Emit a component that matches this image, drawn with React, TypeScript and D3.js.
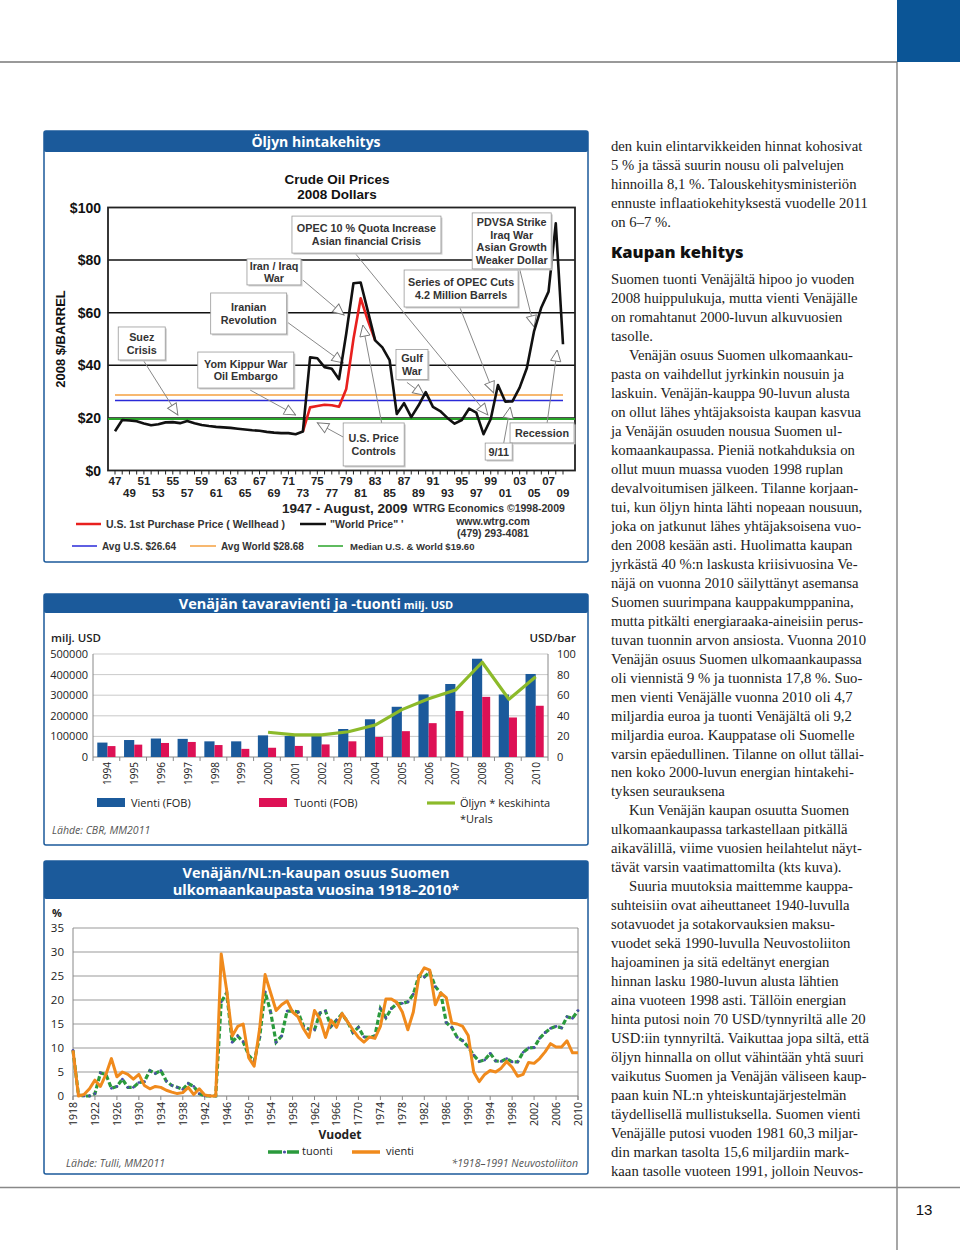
import React from 'react';
import * as d3 from 'd3';

// ---------- Oil price chart data (2008 dollars) ----------
const OIL_START = 1947;
const WORLD_PRICE = [
  14.9, 19.2, 19.0, 18.7, 17.9, 17.2, 17.6, 18.3, 18.4, 18.0, 18.8, 18.0, 17.3, 16.9, 16.6, 16.4,
  16.2, 15.9, 15.6, 15.3, 15.1, 14.7, 14.4, 14.2, 14.2, 13.8, 14.8, 43.0, 42.7, 39.3, 38.7, 34.7,
  52.0, 71.2, 71.5, 60.5, 49.5, 46.8, 42.0, 21.5, 25.6, 20.3, 24.7, 29.8, 24.2, 22.6, 20.0, 17.8,
  19.2, 23.5, 22.0, 13.8, 19.6, 32.5, 26.2, 26.3, 31.5, 39.0, 53.0, 62.0, 68.0, 94.0, 48.0,
];
const US_PRICE_YEARS = [1973, 1974, 1975, 1976, 1977, 1978, 1979, 1980, 1981, 1982, 1983];
const US_PRICE = [14.8, 24.0, 24.5, 25.0, 24.8, 24.2, 31.0, 50.0, 65.5, 57.0, 49.5];
const AVG_US = 26.64;
const AVG_WORLD = 28.68;
const MEDIAN_PRICE = 19.6;
const OIL_Y_TICKS = [0, 20, 40, 60, 80, 100];
const OIL_GRID = [20, 40, 60, 80];

type Note = { lines: string[]; cx: number; cy: number; w: number; h: number; arrows: number[][] };
const OIL_NOTES: Note[] = [
  { lines: ['Suez', 'Crisis'], cx: 1950.7, cy: 48.3, w: 47, h: 33, arrows: [[1950.9, 42.0, 1955.7, 21.1]] },
  { lines: ['Yom Kippur War', 'Oil Embargo'], cx: 1965.1, cy: 38.2, w: 96, h: 36, arrows: [[1965.7, 30.6, 1972.0, 21.1]] },
  { lines: ['Iranian', 'Revolution'], cx: 1965.5, cy: 59.7, w: 76, h: 41, arrows: [[1970.8, 56.5, 1978.6, 40.9]] },
  { lines: ['Iran / Iraq', 'War'], cx: 1969.0, cy: 75.5, w: 54, h: 26, arrows: [[1973.0, 72.4, 1978.7, 59.1]] },
  { lines: ['OPEC 10 % Quota Increase', 'Asian financial Crisis'], cx: 1981.8, cy: 89.7, w: 149, h: 37, arrows: [[1980.2, 82.7, 1998.6, 21.1]] },
  { lines: ['U.S. Price', 'Controls'], cx: 1982.8, cy: 9.9, w: 61, h: 43, arrows: [[1978.6, 12.7, 1975.0, 18.1], [1983.9, 18.1, 1981.3, 55.3]] },
  { lines: ['Gulf', 'War'], cx: 1988.1, cy: 40.3, w: 32, h: 30, arrows: [[1987.4, 33.5, 1989.8, 28.6]] },
  { lines: ['Series of OPEC Cuts', '4.2 Million Barrels'], cx: 1994.9, cy: 69.2, w: 114, h: 37, arrows: [[1994.7, 62.2, 1999.4, 29.5]] },
  { lines: ['PDVSA Strike', 'Iraq War', 'Asian Growth', 'Weaker Dollar'], cx: 2001.9, cy: 87.3, w: 79, h: 56, arrows: [[2003.0, 76.6, 2005.0, 54.6]] },
  { lines: ['Recession'], cx: 2006.1, cy: 14.3, w: 64, h: 20, arrows: [[2006.8, 18.1, 2008.2, 45.8]] },
  { lines: ['9/11'], cx: 2000.1, cy: 7.2, w: 27, h: 17, arrows: [[2000.8, 10.5, 2001.7, 24.1]] },
];

// ---------- Russian trade data (milj. USD) ----------
const TRADE_YEARS = ['1994', '1995', '1996', '1997', '1998', '1999', '2000', '2001', '2002', '2003', '2004', '2005', '2006', '2007', '2008', '2009', '2010'];
const EXPORTS = [70000, 82400, 89700, 88000, 76000, 76000, 105000, 101900, 107300, 135900, 183200, 243800, 303600, 354400, 477000, 303400, 403000];
const IMPORTS = [53000, 60000, 68100, 73000, 58000, 39500, 44900, 53800, 61000, 76100, 97400, 125400, 164300, 223500, 291900, 191800, 248700];
const URALS_YEARS = ['2000', '2001', '2002', '2003', '2004', '2005', '2006', '2007', '2008', '2009', '2010'];
const URALS = [24, 21.5, 21.5, 24.5, 31, 46, 56.5, 65, 92, 56, 78];
const TRADE_TICKS = [0, 100000, 200000, 300000, 400000, 500000];
const OIL_RIGHT_TICKS = [0, 20, 40, 60, 80, 100];

// ---------- Share of Finnish foreign trade 1918–2010 (%) ----------
const SHARE_START = 1918;
const SHARE_EXPORT = [
  9.5, 0, 0.3, 1.5, 3.3, 2.0, 4.5, 7.8, 4.0, 5.0, 4.5, 3.5, 4.5, 2.2, 1.5, 2.0, 1.8, 1.2, 0.8, 0.5,
  0.7, 1.8, 0.3, 1.5, 0.2, 0, 0, 29.6, 22.0, 12.5, 14.5, 15.0, 8.0, 6.2, 14.0, 25.3, 21.5, 17.8, 19.0, 19.8,
  17.5, 16.5, 14.0, 12.2, 17.8, 16.0, 12.2, 15.8, 14.3, 17.2, 15.5, 13.8, 12.2, 11.2, 12.3, 12.0, 14.5, 20.2, 20.2, 19.5,
  17.5, 13.8, 17.5, 24.8, 26.7, 26.2, 19.0, 21.5, 20.5, 15.2, 15.0, 14.5, 12.6, 5.0, 3.0, 4.5, 5.3, 5.0, 5.8, 7.2,
  6.0, 4.1, 4.5, 7.0, 6.8, 7.8, 9.2, 10.9, 10.2, 10.2, 11.5, 9.0, 9.0,
];
const SHARE_IMPORT = [
  9.5, 0.2, 0, 0, 0.5, 4.8, 4.5, 1.6, 2.0, 3.5, 1.8, 1.8, 2.8, 3.0, 5.3, 4.7, 5.3, 3.1, 2.2, 1.8,
  1.4, 2.6, 2.0, 0.5, 0, 0, 0, 19.6, 21.5, 11.2, 12.5, 11.3, 8.5, 7.2, 12.2, 21.7, 17.5, 11.2, 12.5, 17.7,
  17.7, 17.5, 14.5, 13.9, 13.8, 17.3, 17.7, 14.5, 15.8, 17.1, 15.5, 13.2, 14.3, 12.3, 12.2, 12.5, 18.2, 16.3, 18.2, 19.2,
  19.3, 19.6, 21.2, 25.0, 24.8, 25.8, 22.8, 21.4, 15.3, 14.3, 12.2, 11.5, 10.2, 8.5, 7.2, 7.5, 8.9, 7.3, 7.2, 7.8,
  7.1, 7.1, 9.1, 10.0, 10.1, 12.0, 13.2, 14.1, 14.5, 14.2, 16.5, 16.2, 17.8,
];
const SHARE_Y_TICKS = [0, 5, 10, 15, 20, 25, 30, 35];
const SHARE_TICK_YEARS = [1918, 1922, 1926, 1930, 1934, 1938, 1942, 1946, 1950, 1954, 1958, 1962, 1966, 1970, 1974, 1978, 1982, 1986, 1990, 1994, 1998, 2002, 2006, 2010];
const SHARE_TICK_LABELS = ['1918', '1922', '1926', '1930', '1934', '1938', '1942', '1946', '1950', '1954', '1958', '1962', '1966', '1770', '1974', '1978', '1982', '1986', '1990', '1994', '1998', '2002', '2006', '2010'];

// ---------- Body text ----------
type Line = { t: string; indent?: boolean };
const TEXT_TOP: Line[] = [
  { t: 'den kuin elintarvikkeiden hinnat kohosivat' },
  { t: '5 % ja tässä suurin nousu oli palvelujen' },
  { t: 'hinnoilla 8,1 %. Talouskehitysministeriön' },
  { t: 'ennuste inflaatiokehityksestä vuodelle 2011' },
  { t: 'on 6–7 %.' },
];
const TEXT_MAIN: Line[] = [
  { t: 'Suomen tuonti Venäjältä hipoo jo vuoden' },
  { t: '2008 huippulukuja, mutta vienti Venäjälle' },
  { t: 'on romahtanut 2000-luvun alkuvuosien' },
  { t: 'tasolle.' },
  { t: 'Venäjän osuus Suomen ulkomaankau-', indent: true },
  { t: 'pasta on vaihdellut jyrkinkin nousuin ja' },
  { t: 'laskuin. Venäjän-kauppa 90-luvun alusta' },
  { t: 'on ollut lähes yhtäjaksoista kaupan kasvua' },
  { t: 'ja Venäjän osuuden nousua Suomen ul-' },
  { t: 'komaankaupassa. Pieniä notkahduksia on' },
  { t: 'ollut muun muassa vuoden 1998 ruplan' },
  { t: 'devalvoitumisen jälkeen. Tilanne korjaan-' },
  { t: 'tui, kun öljyn hinta lähti nopeaan nousuun,' },
  { t: 'joka on jatkunut lähes yhtäjaksoisena vuo-' },
  { t: 'den 2008 kesään asti. Huolimatta kaupan' },
  { t: 'jyrkästä 40 %:n laskusta kriisivuosina Ve-' },
  { t: 'näjä on vuonna 2010 säilyttänyt asemansa' },
  { t: 'Suomen suurimpana kauppakumppanina,' },
  { t: 'mutta pitkälti energiaraaka-aineisiin perus-' },
  { t: 'tuvan tuonnin arvon ansiosta. Vuonna 2010' },
  { t: 'Venäjän osuus Suomen ulkomaankaupassa' },
  { t: 'oli viennistä 9 % ja tuonnista 17,8 %. Suo-' },
  { t: 'men vienti Venäjälle vuonna 2010 oli 4,7' },
  { t: 'miljardia euroa ja tuonti Venäjältä oli 9,2' },
  { t: 'miljardia euroa. Kauppatase oli Suomelle' },
  { t: 'varsin epäedullinen. Tilanne on ollut tällai-' },
  { t: 'nen koko 2000-luvun energian hintakehi-' },
  { t: 'tyksen seurauksena' },
  { t: 'Kun Venäjän kaupan osuutta Suomen', indent: true },
  { t: 'ulkomaankaupassa tarkastellaan pitkällä' },
  { t: 'aikavälillä, viime vuosien heilahtelut näyt-' },
  { t: 'tävät varsin vaatimattomilta (kts kuva).' },
  { t: 'Suuria muutoksia maittemme kauppa-', indent: true },
  { t: 'suhteisiin ovat aiheuttaneet 1940-luvulla' },
  { t: 'sotavuodet ja sotakorvauksien maksu-' },
  { t: 'vuodet sekä 1990-luvulla Neuvostoliiton' },
  { t: 'hajoaminen ja sitä edeltänyt energian' },
  { t: 'hinnan lasku 1980-luvun alusta lähtien' },
  { t: 'aina vuoteen 1998 asti. Tällöin energian' },
  { t: 'hinta putosi noin 70 USD/tynnyriltä alle 20' },
  { t: 'USD:iin tynnyriltä. Vaikuttaa jopa siltä, että' },
  { t: 'öljyn hinnalla on ollut vähintään yhtä suuri' },
  { t: 'vaikutus Suomen ja Venäjän väliseen kaup-' },
  { t: 'paan kuin NL:n yhteiskuntajärjestelmän' },
  { t: 'täydellisellä mullistuksella. Suomen vienti' },
  { t: 'Venäjälle putosi vuoden 1981 60,3 miljar-' },
  { t: 'din markan tasolta 15,6 miljardiin mark-' },
  { t: 'kaan tasolle vuoteen 1991, jolloin Neuvos-' },
];

// ---------- styles ----------
const BLUE = '#1b5a9b';
const SANS = '"Open Sans", "Noto Sans", sans-serif';
const ARIAL = '"Liberation Sans", Arial, sans-serif';
const SERIF = '"Liberation Serif", "DejaVu Serif", serif';

function ChartBox({ x, y, w, h, hh }: { x: number; y: number; w: number; h: number; hh: number }) {
  return (
    <g>
      <rect x={x} y={y} width={w} height={h} fill="#fff" stroke={BLUE} strokeWidth={1.5} rx={2} />
      <rect x={x} y={y} width={w} height={hh} fill={BLUE} rx={2} />
    </g>
  );
}

function OilChart() {
  const xO = d3.scaleLinear().domain([1947, 2009]).range([115, 563]);
  const yO = d3.scaleLinear().domain([0, 100]).range([470.5, 207.5]);
  const L = 108, R = 575;
  const world = d3.line<number>().x((_, i) => xO(OIL_START + i)).y((d) => yO(d));
  const us = d3.line<number>().x((_, i) => xO(US_PRICE_YEARS[i])).y((d) => yO(d));
  const years = d3.range(1947, 2010);
  return (
    <g>
      <ChartBox x={44} y={131} w={544} h={431} hh={21} />
      <text x={316} y={147} textAnchor="middle" fill="#fff" fontFamily={SANS} fontWeight={700} fontSize={14}>Öljyn hintakehitys</text>
      <text x={337} y={184} textAnchor="middle" fontFamily={ARIAL} fontWeight={700} fontSize={13.5} fill="#111">Crude Oil Prices</text>
      <text x={337} y={199} textAnchor="middle" fontFamily={ARIAL} fontWeight={700} fontSize={13.5} fill="#111">2008 Dollars</text>
      <text transform={`translate(65,${yO(50)}) rotate(-90)`} textAnchor="middle" fontFamily={ARIAL} fontWeight={700} fontSize={13} fill="#111">2008 $/BARREL</text>
      {/* grid and frame */}
      {OIL_GRID.map((v) => (
        <line key={v} x1={L} x2={R} y1={yO(v)} y2={yO(v)} stroke="#111" strokeWidth={1.5} />
      ))}
      <rect x={L} y={yO(100)} width={R - L} height={yO(0) - yO(100)} fill="none" stroke="#222" strokeWidth={1.8} />
      {OIL_Y_TICKS.map((v) => (
        <text key={v} x={101} y={yO(v) + 5} textAnchor="end" fontFamily={ARIAL} fontWeight={700} fontSize={14} fill="#111">${v}</text>
      ))}
      {years.map((yr) => (
        <line key={yr} x1={xO(yr)} x2={xO(yr)} y1={yO(0)} y2={yO(0) + 4} stroke="#222" strokeWidth={1} />
      ))}
      {years.filter((yr) => yr % 2 === 1).map((yr) => {
        const top = (yr - 1947) % 4 === 0;
        return (
          <text key={yr} x={xO(yr)} y={top ? 485 : 497} textAnchor="middle" fontFamily={ARIAL} fontWeight={700} fontSize={11.5} fill="#222">
            {String(yr).slice(2)}
          </text>
        );
      })}
      {/* reference lines */}
      <line x1={xO(1947)} x2={xO(2009)} y1={yO(AVG_WORLD)} y2={yO(AVG_WORLD)} stroke="#f4a040" strokeWidth={1.6} />
      <line x1={xO(1947)} x2={xO(2009)} y1={yO(AVG_US)} y2={yO(AVG_US)} stroke="#2a2ad8" strokeWidth={1.4} />
      <line x1={L} x2={R} y1={yO(MEDIAN_PRICE)} y2={yO(MEDIAN_PRICE)} stroke="#2aa52a" strokeWidth={2} />
      {/* annotations */}
      <defs>
        <marker id="harrow" viewBox="0 0 14 14" refX="13" refY="7" markerWidth="13" markerHeight="13" orient="auto" markerUnits="userSpaceOnUse">
          <path d="M1,1.5 L13,7 L1,12.5 Z" fill="#fff" stroke="#777" strokeWidth={1} />
        </marker>
      </defs>
      {OIL_NOTES.map((n, i) => (
        <g key={'a' + i}>
          {n.arrows.map((a, j) => (
            <line key={j} x1={xO(a[0])} y1={yO(a[1])} x2={xO(a[2])} y2={yO(a[3])} stroke="#888" strokeWidth={1} markerEnd="url(#harrow)" />
          ))}
        </g>
      ))}
      <path d={us(US_PRICE) || ''} fill="none" stroke="#e8201e" strokeWidth={2.6} strokeLinejoin="round" />
      <path d={world(WORLD_PRICE) || ''} fill="none" stroke="#111" strokeWidth={2.6} strokeLinejoin="round" />
      {OIL_NOTES.map((n, i) => {
        const cx = xO(n.cx), cy = yO(n.cy);
        const lh = 12.8;
        return (
          <g key={'b' + i}>
            <rect x={cx - n.w / 2 + 1.5} y={cy - n.h / 2 + 1.5} width={n.w} height={n.h} fill="#ccc" />
            <rect x={cx - n.w / 2} y={cy - n.h / 2} width={n.w} height={n.h} fill="#fff" stroke="#999" strokeWidth={0.8} />
            {n.lines.map((s, k) => (
              <text key={k} x={cx} y={cy - ((n.lines.length - 1) * lh) / 2 + k * lh + 4} textAnchor="middle" fontFamily={ARIAL} fontWeight={700} fontSize={10.8} fill="#333">{s}</text>
            ))}
          </g>
        );
      })}
      {/* footer */}
      <text x={282} y={513} fontFamily={ARIAL} fontWeight={700} fontSize={13.5} fill="#222">1947 - August, 2009</text>
      <text x={413} y={512} fontFamily={ARIAL} fontWeight={700} fontSize={10.5} fill="#333">WTRG Economics  ©1998-2009</text>
      <text x={493} y={525} textAnchor="middle" fontFamily={ARIAL} fontWeight={700} fontSize={10.5} fill="#333">www.wtrg.com</text>
      <text x={493} y={537} textAnchor="middle" fontFamily={ARIAL} fontWeight={700} fontSize={10.5} fill="#333">(479) 293-4081</text>
      <line x1={76} x2={101} y1={524} y2={524} stroke="#e8201e" strokeWidth={2.5} />
      <text x={106} y={528} fontFamily={ARIAL} fontWeight={700} fontSize={10.5} fill="#333">U.S. 1st Purchase Price ( Wellhead )</text>
      <line x1={300} x2={326} y1={524} y2={524} stroke="#111" strokeWidth={2.5} />
      <text x={330} y={528} fontFamily={ARIAL} fontWeight={700} fontSize={10.5} fill="#333">"World Price" '</text>
      <line x1={72} x2={97} y1={546} y2={546} stroke="#2a2ad8" strokeWidth={1.5} />
      <text x={102} y={550} fontFamily={ARIAL} fontWeight={700} fontSize={10} fill="#333">Avg U.S. $26.64</text>
      <line x1={190} x2={216} y1={546} y2={546} stroke="#f4a040" strokeWidth={1.5} />
      <text x={221} y={550} fontFamily={ARIAL} fontWeight={700} fontSize={10} fill="#333">Avg World $28.68</text>
      <line x1={318} x2={343} y1={546} y2={546} stroke="#2aa52a" strokeWidth={1.5} />
      <text x={350} y={550} fontFamily={ARIAL} fontWeight={700} fontSize={9.5} fill="#333">Median U.S. &amp; World  $19.60</text>
    </g>
  );
}

function TradeChart() {
  const xB = d3.scaleBand().domain(TRADE_YEARS).range([93, 548]).paddingInner(0.32).paddingOuter(0.16);
  const yB = d3.scaleLinear().domain([0, 500000]).range([757, 654]);
  const yR = d3.scaleLinear().domain([0, 100]).range([757, 654]);
  const bw = xB.bandwidth();
  const bwV = bw * 0.56;
  const step = xB.step();
  const oil = d3.line<number>().x((_, i) => (xB(URALS_YEARS[i]) as number) + bwV).y((d) => yR(d));
  return (
    <g>
      <ChartBox x={44} y={594} w={544} h={251} hh={19} />
      <text x={316} y={609} textAnchor="middle" fill="#fff" fontFamily={SANS} fontWeight={700} fontSize={14.5}>
        Venäjän tavaravienti ja -tuonti<tspan fontSize={11}> milj. USD</tspan>
      </text>
      <text x={51} y={642} fontFamily={SANS} fontWeight={600} fontSize={11.5} fill="#222">milj. USD</text>
      <text x={576} y={642} textAnchor="end" fontFamily={SANS} fontWeight={600} fontSize={11.5} fill="#222">USD/bar</text>
      {TRADE_TICKS.map((v) => (
        <g key={v}>
          {v > 0 && <line x1={93} x2={548} y1={yB(v)} y2={yB(v)} stroke="#bbb" strokeWidth={0.8} />}
          <text x={88} y={yB(v) + 4} textAnchor="end" fontFamily={SANS} fontSize={11} fill="#222">{v}</text>
        </g>
      ))}
      {OIL_RIGHT_TICKS.map((v) => (
        <text key={v} x={557} y={yR(v) + 4} fontFamily={SANS} fontSize={11} fill="#222">{v}</text>
      ))}
      <line x1={93} x2={93} y1={654} y2={757} stroke="#888" />
      <line x1={548} x2={548} y1={654} y2={757} stroke="#888" />
      <line x1={93} x2={548} y1={757} y2={757} stroke="#888" />
      {TRADE_YEARS.map((yr, i) => {
        const x0 = xB(yr) as number;
        return (
          <g key={yr}>
            <line x1={x0 - (step - bw) / 2} x2={x0 - (step - bw) / 2} y1={757} y2={761} stroke="#888" />
            <rect x={x0} y={yB(EXPORTS[i])} width={bwV} height={757 - yB(EXPORTS[i])} fill="#1b5a9b" />
            <rect x={x0 + bwV} y={yB(IMPORTS[i])} width={bw - bwV} height={757 - yB(IMPORTS[i])} fill="#dd1155" />
            <text transform={`translate(${x0 + bwV + 4},762) rotate(-90)`} textAnchor="end" fontFamily={SANS} fontSize={10} fill="#222">{yr}</text>
          </g>
        );
      })}
      <line x1={548} x2={548} y1={757} y2={761} stroke="#888" />
      <path d={oil(URALS) || ''} fill="none" stroke="#8cba2a" strokeWidth={3.2} strokeLinejoin="round" />
      <rect x={97} y={798} width={28} height={9} fill="#1b5a9b" />
      <text x={131} y={807} fontFamily={SANS} fontSize={11} fill="#222">Vienti (FOB)</text>
      <rect x={259} y={798} width={28} height={9} fill="#dd1155" />
      <text x={294} y={807} fontFamily={SANS} fontSize={11} fill="#222">Tuonti (FOB)</text>
      <line x1={427} x2={455} y1={803} y2={803} stroke="#8cba2a" strokeWidth={3.2} />
      <text x={460} y={807} fontFamily={SANS} fontSize={11} fill="#222">Öljyn * keskihinta</text>
      <text x={460} y={823} fontFamily={SANS} fontSize={11} fill="#222">*Urals</text>
      <text x={52} y={834} fontFamily={SANS} fontStyle="italic" fontSize={10.5} fill="#555">Lähde: CBR, MM2011</text>
    </g>
  );
}

function ShareChart() {
  const xL = d3.scaleLinear().domain([1918, 2010]).range([73, 578]);
  const yL = d3.scaleLinear().domain([0, 35]).range([1096, 928]);
  const line = d3.line<number>().x((_, i) => xL(SHARE_START + i)).y((d) => yL(d));
  return (
    <g>
      <ChartBox x={44} y={861} w={544} h={313} hh={38} />
      <text x={316} y={878} textAnchor="middle" fill="#fff" fontFamily={SANS} fontWeight={700} fontSize={14.5}>Venäjän/NL:n-kaupan osuus Suomen</text>
      <text x={316} y={895} textAnchor="middle" fill="#fff" fontFamily={SANS} fontWeight={700} fontSize={14.5}>ulkomaankaupasta vuosina 1918–2010*</text>
      <text x={52} y={917} fontFamily={SANS} fontWeight={700} fontSize={11} fill="#222">%</text>
      {SHARE_Y_TICKS.map((v) => (
        <g key={v}>
          <line x1={73} x2={578} y1={yL(v)} y2={yL(v)} stroke={v === 0 ? '#777' : '#999'} strokeWidth={1} />
          <text x={64} y={yL(v) + 4} textAnchor="end" fontFamily={SANS} fontSize={11.5} fill="#222">{v}</text>
        </g>
      ))}
      <line x1={73} x2={73} y1={yL(35)} y2={yL(0) + 4} stroke="#888" />
      <line x1={578} x2={578} y1={yL(35)} y2={yL(0) + 4} stroke="#888" />
      {SHARE_TICK_YEARS.map((yr, i) => (
        <g key={yr}>
          <line x1={xL(yr)} x2={xL(yr)} y1={yL(0)} y2={yL(0) + 4} stroke="#888" />
          <text transform={`translate(${xL(yr) + 4},1102) rotate(-90)`} textAnchor="end" fontFamily={SANS} fontSize={10.5} fill="#222">{SHARE_TICK_LABELS[i]}</text>
        </g>
      ))}
      <path d={line(SHARE_IMPORT) || ''} fill="none" stroke="#2a9a3c" strokeWidth={3.2} strokeDasharray="5,2.5" />
      {SHARE_IMPORT.map((v, i) => (
        <circle key={i} cx={xL(SHARE_START + i)} cy={yL(v)} r={1.4} fill="#4b4fa8" />
      ))}
      <path d={line(SHARE_EXPORT) || ''} fill="none" stroke="#f08a1c" strokeWidth={3} strokeLinejoin="round" />
      <text x={340} y={1139} textAnchor="middle" fontFamily={SANS} fontWeight={700} fontSize={12} fill="#222">Vuodet</text>
      <line x1={268} x2={282} y1={1152} y2={1152} stroke="#2a9a3c" strokeWidth={3.5} />
      <line x1={287} x2={299} y1={1152} y2={1152} stroke="#2a9a3c" strokeWidth={3.5} />
      <circle cx={284.5} cy={1152} r={1.6} fill="#4b4fa8" />
      <text x={302} y={1155} fontFamily={SANS} fontSize={11} fill="#222">tuonti</text>
      <line x1={352} x2={380} y1={1152} y2={1152} stroke="#f08a1c" strokeWidth={3.5} />
      <text x={386} y={1155} fontFamily={SANS} fontSize={11} fill="#222">vienti</text>
      <text x={66} y={1167} fontFamily={SANS} fontStyle="italic" fontSize={10.5} fill="#555">Lähde: Tulli, MM2011</text>
      <text x={578} y={1167} textAnchor="end" fontFamily={SANS} fontStyle="italic" fontSize={10.5} fill="#555">*1918–1991 Neuvostoliiton</text>
    </g>
  );
}

function BodyText() {
  const LH = 18.98;
  return (
    <g fontFamily={SERIF} fontSize={14.7} fill="#222">
      {TEXT_TOP.map((l, i) => (
        <text key={'t' + i} x={611} y={151 + i * LH}>{l.t}</text>
      ))}
      <text x={611} y={258} fontFamily={SANS} fontWeight={800} fontSize={16.5} fill="#111">Kaupan kehitys</text>
      {TEXT_MAIN.map((l, i) => (
        <text key={'m' + i} x={l.indent ? 629 : 611} y={284 + i * LH}>{l.t}</text>
      ))}
    </g>
  );
}

export default function App() {
  return (
    <svg width={960} height={1250} viewBox="0 0 960 1250" style={{ position: 'absolute', left: 0, top: 0, background: '#fff' }}>
      <rect x={0} y={0} width={960} height={1250} fill="#fff" />
      <rect x={897} y={0} width={63} height={62} fill="#0b5596" />
      <line x1={0} x2={897} y1={62} y2={62} stroke="#777" strokeWidth={1.3} />
      <line x1={897} x2={897} y1={62} y2={1250} stroke="#777" strokeWidth={1.3} />
      <line x1={0} x2={960} y1={1187.5} y2={1187.5} stroke="#888" strokeWidth={1.5} />
      <text x={924} y={1215} textAnchor="middle" fontFamily={ARIAL} fontSize={15} fill="#111">13</text>
      <OilChart />
      <TradeChart />
      <ShareChart />
      <BodyText />
    </svg>
  );
}
